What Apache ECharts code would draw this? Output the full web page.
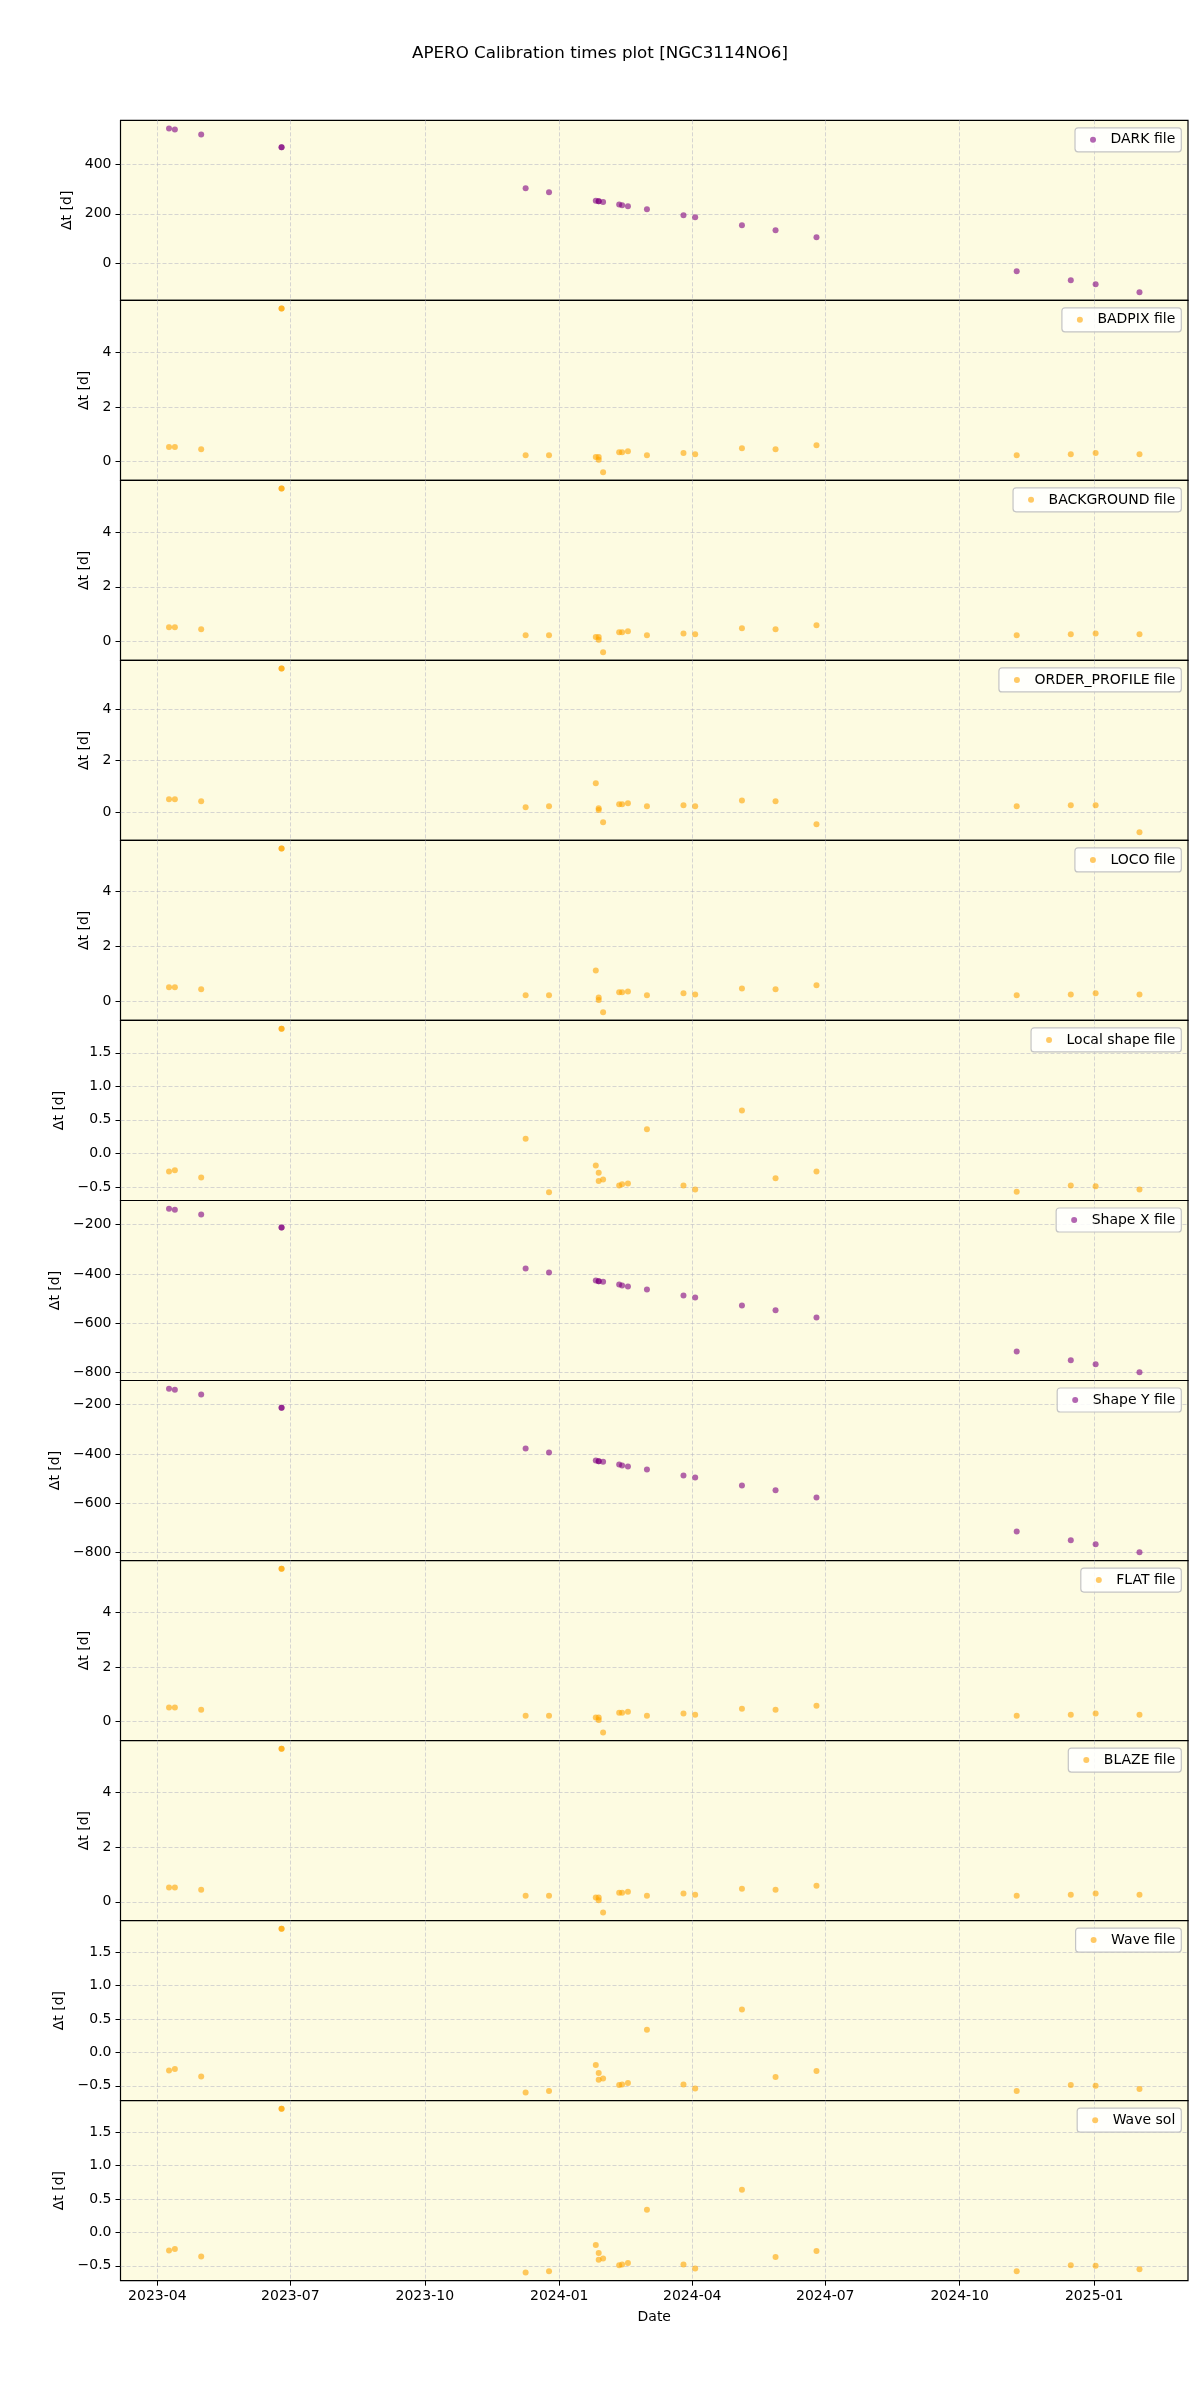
<!DOCTYPE html>
<html>
<head>
<meta charset="utf-8">
<title>APERO Calibration times plot</title>
<script src="https://cdn.jsdelivr.net/npm/echarts@6/dist/echarts.min.js"></script>
<style>
  html, body { margin: 0; padding: 0; background: #ffffff; }
  #chart { width: 1200px; height: 2400px; }
</style>
</head>
<body>
<div id="chart"></div>
<script>
// observation dates, one per point (same for every panel)
var obsDates = [
  '2023-04-09', '2023-04-13', '2023-05-01', '2023-06-25', '2023-06-25',
  '2023-12-09', '2023-12-25', '2024-01-26', '2024-01-28', '2024-01-28',
  '2024-01-31', '2024-02-11', '2024-02-13', '2024-02-17', '2024-03-01',
  '2024-03-26', '2024-04-03', '2024-05-05', '2024-05-28', '2024-06-25',
  '2024-11-09', '2024-12-16', '2025-01-02', '2025-02-01'
];

// delta t [d] per calibration type
var darkDt = [545, 541, 521, 469, 469, 303, 287, 253, 251, 251, 248, 238, 234, 230, 218, 194, 186, 154, 133, 105, -32, -69, -85, -117];
var badpixDt = [0.53, 0.53, 0.45, 5.61, 5.61, 0.23, 0.23, 0.17, 0.17, 0.07, -0.39, 0.34, 0.34, 0.38, 0.23, 0.31, 0.27, 0.49, 0.45, 0.60, 0.23, 0.27, 0.31, 0.27];
var backgroundDt = [0.52, 0.52, 0.44, 5.61, 5.61, 0.22, 0.22, 0.16, 0.16, 0.06, -0.40, 0.33, 0.33, 0.37, 0.22, 0.29, 0.26, 0.48, 0.44, 0.59, 0.22, 0.26, 0.29, 0.26];
var orderProfileDt = [0.49, 0.49, 0.42, 5.58, 5.58, 0.18, 0.22, 1.12, 0.14, 0.08, -0.40, 0.30, 0.30, 0.34, 0.22, 0.26, 0.22, 0.45, 0.42, -0.48, 0.22, 0.26, 0.26, -0.79];
var locoDt = [0.51, 0.51, 0.44, 5.56, 5.56, 0.22, 0.22, 1.12, 0.14, 0.05, -0.40, 0.33, 0.33, 0.36, 0.22, 0.29, 0.25, 0.47, 0.44, 0.58, 0.22, 0.25, 0.29, 0.25];
var localShapeDt = [-0.27, -0.25, -0.36, 1.86, 1.86, 0.22, -0.58, -0.18, -0.29, -0.41, -0.39, -0.48, -0.46, -0.45, 0.36, -0.48, -0.54, 0.64, -0.37, -0.27, -0.57, -0.48, -0.49, -0.54];
var shapeXDt = [-135, -139, -159, -212, -212, -378, -394, -427, -430, -430, -432, -443, -447, -451, -463, -488, -496, -528, -548, -577, -715, -751, -767, -800];
var shapeYDt = [-135, -139, -159, -212, -212, -378, -394, -427, -430, -430, -432, -443, -447, -451, -463, -488, -496, -528, -548, -577, -715, -751, -767, -800];
var flatDt = [0.52, 0.52, 0.44, 5.61, 5.61, 0.22, 0.22, 0.16, 0.16, 0.06, -0.39, 0.33, 0.33, 0.37, 0.22, 0.30, 0.26, 0.48, 0.44, 0.59, 0.22, 0.26, 0.30, 0.26];
var blazeDt = [0.52, 0.52, 0.44, 5.61, 5.61, 0.22, 0.22, 0.16, 0.16, 0.06, -0.39, 0.33, 0.33, 0.37, 0.22, 0.30, 0.26, 0.48, 0.44, 0.59, 0.22, 0.26, 0.30, 0.26];
var waveFileDt = [-0.27, -0.25, -0.36, 1.85, 1.85, -0.60, -0.58, -0.19, -0.31, -0.41, -0.39, -0.49, -0.48, -0.46, 0.34, -0.48, -0.54, 0.64, -0.37, -0.28, -0.58, -0.49, -0.50, -0.55];
var waveSolDt = [-0.27, -0.25, -0.36, 1.85, 1.85, -0.60, -0.58, -0.19, -0.31, -0.41, -0.39, -0.49, -0.48, -0.46, 0.34, -0.48, -0.54, 0.64, -0.37, -0.28, -0.58, -0.49, -0.50, -0.55];

// tick positions
var xTickDates = ['2023-04-01', '2023-07-01', '2023-10-01', '2024-01-01', '2024-04-01', '2024-07-01', '2024-10-01', '2025-01-01'];
var darkTicks = [0, 200, 400];
var smallTicks = [0, 2, 4];
var halfTicks = [-0.5, 0.0, 0.5, 1.0, 1.5];
var shapeTicks = [-800, -600, -400, -200];

var PURPLE = '#800080';
var ORANGE = '#ffa500';
var FONT = 'DejaVu Sans';

var panels = [
  { name: 'DARK file', values: darkDt, color: PURPLE, ticks: darkTicks, dec: 0, gap: 41 },
  { name: 'BADPIX file', values: badpixDt, color: ORANGE, ticks: smallTicks, dec: 0, gap: 22 },
  { name: 'BACKGROUND file', values: backgroundDt, color: ORANGE, ticks: smallTicks, dec: 0, gap: 22 },
  { name: 'ORDER_PROFILE file', values: orderProfileDt, color: ORANGE, ticks: smallTicks, dec: 0, gap: 22 },
  { name: 'LOCO file', values: locoDt, color: ORANGE, ticks: smallTicks, dec: 0, gap: 22 },
  { name: 'Local shape file', values: localShapeDt, color: ORANGE, ticks: halfTicks, dec: 1, gap: 47 },
  { name: 'Shape X file', values: shapeXDt, color: PURPLE, ticks: shapeTicks, dec: 0, gap: 51 },
  { name: 'Shape Y file', values: shapeYDt, color: PURPLE, ticks: shapeTicks, dec: 0, gap: 51 },
  { name: 'FLAT file', values: flatDt, color: ORANGE, ticks: smallTicks, dec: 0, gap: 22 },
  { name: 'BLAZE file', values: blazeDt, color: ORANGE, ticks: smallTicks, dec: 0, gap: 22 },
  { name: 'Wave file', values: waveFileDt, color: ORANGE, ticks: halfTicks, dec: 1, gap: 47 },
  { name: 'Wave sol', values: waveSolDt, color: ORANGE, ticks: halfTicks, dec: 1, gap: 47 }
];

function toTime(s) { return Date.parse(s + 'T00:00:00Z'); }
function pad2(n) { return n < 10 ? '0' + n : '' + n; }
function fmtNum(v, dec) {
  var s = Math.abs(v).toFixed(dec);
  return (v < 0 ? '\u2212' : '') + s;
}

var obsTimes = obsDates.map(toTime);
var tMin = Math.min.apply(null, obsTimes), tMax = Math.max.apply(null, obsTimes);
var xMin = tMin - 0.05 * (tMax - tMin);
var xMax = tMax + 0.05 * (tMax - tMin);
var xTicks = xTickDates.map(toTime);

var LEFT = 120.5, RIGHT = 1188, TOP = 120.3, PH = 180.03;
var gridLine = { show: true, lineStyle: { color: '#b8b8c4', opacity: 0.7, width: 0.8, type: [4, 2] } };

var grids = [], xAxes = [], yAxes = [], legends = [], series = [];
panels.forEach(function (p, i) {
  var last = i === panels.length - 1;
  var top = TOP + i * PH;
  grids.push({
    left: LEFT, width: RIGHT - LEFT, top: top, height: PH,
    show: true, backgroundColor: '#fdfbe1', borderColor: '#000', borderWidth: 1.2
  });
  // dates are plotted as epoch milliseconds on a value axis
  xAxes.push({
    type: 'value', gridIndex: i, min: xMin, max: xMax,
    name: last ? 'Date' : '', nameLocation: 'middle', nameGap: 30,
    nameTextStyle: { fontFamily: FONT, fontSize: 14, color: '#000' },
    axisLine: { show: false, onZero: false },
    axisTick: { show: last, customValues: xTicks, length: 5, lineStyle: { color: '#000' } },
    axisLabel: {
      show: last, customValues: xTicks, margin: 9,
      fontFamily: FONT, fontSize: 14, color: '#000',
      formatter: function (v) { var d = new Date(v); return d.getUTCFullYear() + '-' + pad2(d.getUTCMonth() + 1); }
    },
    splitLine: gridLine
  });
  var dmin = Math.min.apply(null, p.values), dmax = Math.max.apply(null, p.values);
  var span = dmax - dmin;
  yAxes.push({
    type: 'value', gridIndex: i,
    min: dmin - 0.05 * span, max: dmax + 0.05 * span,
    name: '\u0394t [d]', nameLocation: 'middle', nameGap: p.gap,
    nameTextStyle: { fontFamily: FONT, fontSize: 14, color: '#000' },
    axisLine: { show: false, onZero: false },
    axisTick: { show: true, customValues: p.ticks, length: 5, lineStyle: { color: '#000' } },
    axisLabel: {
      customValues: p.ticks, margin: 9, fontFamily: FONT, fontSize: 14, color: '#000',
      formatter: (function (dec) { return function (v) { return fmtNum(v, dec); }; })(p.dec)
    },
    splitLine: gridLine
  });
  // left padding pushes the marker in from the box edge
  legends.push({
    data: [p.name], right: 1200 - 1181.3, top: top + 7.5,
    orient: 'horizontal', icon: 'circle', itemWidth: 25, itemHeight: 6,
    padding: [5, 6, 5, 15], selectedMode: false,
    backgroundColor: 'rgba(255,255,255,0.85)', borderColor: '#c4c4c4', borderWidth: 1.2, borderRadius: 3,
    textStyle: { fontFamily: FONT, fontSize: 14, color: '#000' }
  });
  series.push({
    name: p.name, type: 'scatter', xAxisIndex: i, yAxisIndex: i,
    symbolSize: 6,
    itemStyle: { color: p.color, opacity: 0.6 },
    data: obsTimes.map(function (t, k) { return [t, p.values[k]]; })
  });
});

var chart = echarts.init(document.getElementById('chart'), null, { renderer: 'canvas' });
chart.setOption({
  animation: false,
  backgroundColor: '#ffffff',
  title: {
    text: 'APERO Calibration times plot [NGC3114NO6]',
    left: 'center', top: 45, padding: 0,
    textStyle: { fontFamily: FONT, fontSize: 16.7, fontWeight: 'normal', color: '#000' }
  },
  grid: grids,
  xAxis: xAxes,
  yAxis: yAxes,
  legend: legends,
  series: series
});
</script>
</body>
</html>
